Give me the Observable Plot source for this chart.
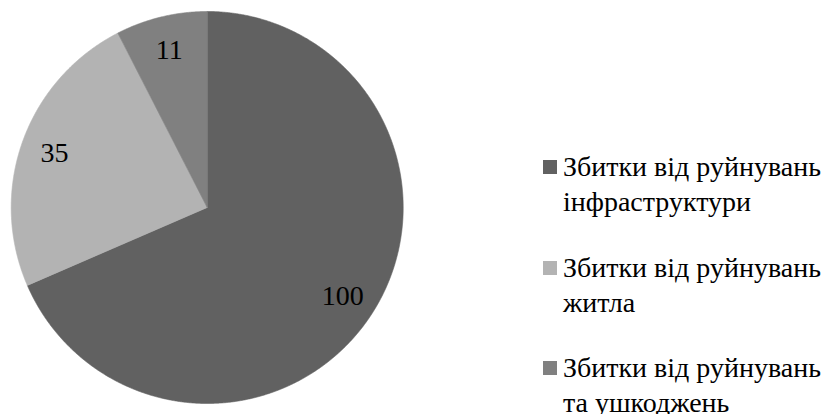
<!DOCTYPE html>
<html><head><meta charset="utf-8">
<script src="https://cdn.jsdelivr.net/npm/d3@7"></script>
<script src="https://cdn.jsdelivr.net/npm/@observablehq/plot@0.6"></script>
<style>
html,body{margin:0;padding:0;background:#fff;}
#wrap{position:relative;width:837px;height:414px;overflow:hidden;font-family:"Liberation Serif","DejaVu Serif","Noto Serif",serif;}
#chart{position:absolute;left:0;top:0;}
.item{position:absolute;left:563px;font-size:28px;line-height:34.5px;white-space:pre;color:#000;font-family:"Liberation Serif","DejaVu Serif","Noto Serif",serif;}
.sw{position:absolute;left:-20px;top:9.7px;width:14px;height:14px;}
</style></head><body>
<div id="wrap"><div id="chart"></div><div id="legend"></div></div>
<script>
const categories = ["Збитки від руйнувань інфраструктури", "Збитки від руйнувань житла", "Збитки від руйнувань та ушкоджень"];
const legendLines = [["Збитки від руйнувань", "інфраструктури"], ["Збитки від руйнувань", "житла"], ["Збитки від руйнувань", "та ушкоджень"]];
const values = [100, 35, 11];
const colors = ["#616161", "#b3b3b3", "#808080"];

const arcs = d3.pie().sort(null).value(d => d)(values);
const slicePts = [];
arcs.forEach((a, i) => {
  const cat = categories[i];
  slicePts.push({cat, x: 0, y: 0});
  const n = Math.max(4, Math.ceil((a.endAngle - a.startAngle) / 0.005));
  for (let k = 0; k <= n; k++) {
    const t = a.startAngle + (a.endAngle - a.startAngle) * k / n;
    slicePts.push({cat, x: Math.sin(t), y: Math.cos(t)});
  }
  slicePts.push({cat, x: 0, y: 0});
});
const labelR = 0.827;
const labels = arcs.map((a, i) => {
  const m = (a.startAngle + a.endAngle) / 2;
  return {x: labelR * Math.sin(m), y: labelR * Math.cos(m), v: values[i]};
});

const plot = Plot.plot({
  width: 837, height: 414,
  margin: 0,
  x: {domain: [-1, 1], range: [10.7, 402.7], axis: null},
  y: {domain: [-1, 1], range: [403, 11], axis: null},
  color: {domain: categories, range: colors},
  style: {background: "transparent", overflow: "visible"},
  marks: [
    Plot.line(slicePts, {x: "x", y: "y", z: "cat", fill: "cat", stroke: "cat", strokeWidth: 0.6, curve: "linear"}),
    Plot.text(labels, {x: "x", y: "y", text: d => String(d.v), fontSize: 28, fontFamily: "'Liberation Serif', 'DejaVu Serif', 'Noto Serif', serif", fill: "#000"})
  ]
});
document.getElementById("chart").appendChild(plot);

const tops = [150.3, 251.3, 351];
const legend = document.getElementById("legend");
legendLines.forEach((lines, i) => {
  const d = document.createElement("div");
  d.className = "item";
  d.style.top = tops[i] + "px";
  d.textContent = lines.join("\n");
  const s = document.createElement("span");
  s.className = "sw";
  s.style.background = colors[i];
  d.appendChild(s);
  legend.appendChild(d);
});
</script>
</body></html>
